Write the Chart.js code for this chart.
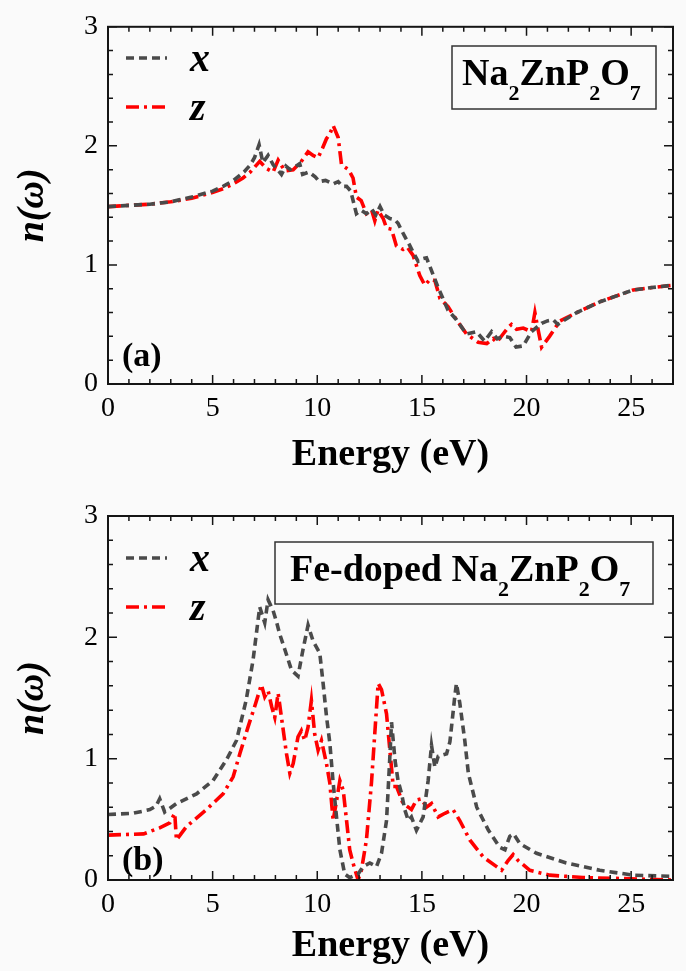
<!DOCTYPE html>
<html>
<head>
<meta charset="utf-8">
<script src="https://cdn.jsdelivr.net/npm/chart.js@4.4.1/dist/chart.umd.min.js"></script>
<style>
  body { margin: 0; background: #fafafa; }
  .panel { position: absolute; left: 0; width: 686px; }
</style>
</head>
<body>
<div class="panel" style="top:0;height:486px"><canvas id="panelA"></canvas></div>
<div class="panel" style="top:486px;height:485px"><canvas id="panelB"></canvas></div>
<script>
// (a) Na2ZnP2O7 — refractive index, x and z polarisation
const energyAx = [0, 1, 2, 3, 4, 5, 5.5, 6, 6.5, 6.8, 7.0, 7.22, 7.4, 7.65, 7.9, 8.1, 8.29, 8.5, 8.7, 8.9, 9.16, 9.3, 9.6, 9.9, 10.1, 10.4, 10.76, 11.0, 11.2, 11.4, 11.6, 11.87, 12.1, 12.35, 12.6, 12.8, 13.0, 13.2, 13.47, 13.7, 13.86, 14.0, 14.18, 14.4, 14.6, 14.82, 15.0, 15.22, 15.4, 15.62, 15.8, 16.0, 16.25, 16.65, 17.13, 17.6, 18.0, 18.33, 18.6, 18.9, 19.2, 19.5, 19.84, 20.24, 20.72, 21.0, 21.27, 21.5, 21.75, 22.4, 23.5, 24.3, 25.1, 26, 27];
const nAx = [1.49, 1.50, 1.51, 1.53, 1.57, 1.62, 1.66, 1.71, 1.78, 1.84, 1.90, 2.01, 1.86, 1.92, 1.84, 1.80, 1.76, 1.83, 1.80, 1.82, 1.85, 1.76, 1.78, 1.74, 1.70, 1.71, 1.68, 1.70, 1.66, 1.66, 1.62, 1.43, 1.46, 1.43, 1.47, 1.42, 1.49, 1.42, 1.39, 1.38, 1.35, 1.30, 1.24, 1.17, 1.10, 1.03, 1.05, 1.06, 0.98, 0.88, 0.80, 0.72, 0.62, 0.54, 0.42, 0.44, 0.36, 0.44, 0.38, 0.40, 0.39, 0.31, 0.32, 0.44, 0.51, 0.53, 0.54, 0.50, 0.53, 0.60, 0.69, 0.74, 0.79, 0.81, 0.83];
const energyAz = [0, 1, 2, 3, 4, 5.02, 5.5, 5.98, 6.45, 6.8, 7.05, 7.25, 7.57, 7.89, 8.13, 8.45, 8.85, 9.2, 9.56, 9.8, 10.04, 10.25, 10.44, 10.6, 10.76, 11.0, 11.16, 11.5, 11.71, 11.87, 12.1, 12.35, 12.6, 12.75, 12.9, 13.15, 13.31, 13.55, 13.78, 14.1, 14.3, 14.58, 14.9, 15.14, 15.4, 15.62, 15.86, 16.25, 16.65, 17.13, 17.69, 18.1, 18.4, 18.57, 18.88, 19.1, 19.28, 19.52, 19.84, 20.1, 20.24, 20.4, 20.56, 20.72, 21.1, 21.6, 22.4, 23.5, 24.3, 25.1, 26, 27];
const nAz = [1.49, 1.50, 1.51, 1.53, 1.56, 1.61, 1.64, 1.68, 1.73, 1.78, 1.83, 1.87, 1.81, 1.78, 1.88, 1.79, 1.80, 1.86, 1.95, 1.92, 1.90, 1.98, 2.06, 2.10, 2.17, 2.07, 1.84, 1.80, 1.73, 1.57, 1.54, 1.43, 1.46, 1.37, 1.46, 1.39, 1.31, 1.30, 1.16, 1.13, 1.15, 1.08, 0.91, 0.83, 0.88, 0.87, 0.72, 0.65, 0.54, 0.42, 0.35, 0.34, 0.38, 0.35, 0.42, 0.47, 0.50, 0.46, 0.47, 0.45, 0.44, 0.60, 0.45, 0.31, 0.40, 0.53, 0.60, 0.69, 0.74, 0.79, 0.81, 0.83];

// (b) Fe-doped Na2ZnP2O7
const energyBx = [0, 1.2, 2.0, 2.3, 2.47, 2.71, 3.27, 4.23, 5.02, 5.66, 6.14, 6.6, 6.93, 7.09, 7.25, 7.49, 7.65, 7.89, 8.05, 8.2, 8.45, 8.77, 9.08, 9.32, 9.56, 9.8, 9.96, 10.12, 10.28, 10.44, 10.6, 10.76, 10.92, 11.08, 11.31, 11.55, 11.95, 12.19, 12.51, 12.83, 13.07, 13.31, 13.45, 13.55, 13.72, 13.86, 14.03, 14.18, 14.35, 14.5, 14.74, 15.06, 15.3, 15.46, 15.62, 15.78, 16.18, 16.34, 16.57, 16.65, 16.81, 17.05, 17.22, 17.62, 18.18, 18.72, 18.97, 19.2, 19.38, 19.68, 20.48, 21.9, 23.5, 25.1, 27];
const nBx = [0.54, 0.55, 0.58, 0.61, 0.67, 0.56, 0.63, 0.71, 0.82, 0.99, 1.15, 1.48, 1.81, 2.03, 2.25, 2.12, 2.31, 2.22, 2.13, 2.03, 1.90, 1.73, 1.68, 1.90, 2.10, 1.97, 1.92, 1.87, 1.62, 1.35, 1.13, 0.80, 0.52, 0.25, 0.05, 0.02, 0.05, 0.11, 0.14, 0.11, 0.22, 0.49, 0.95, 1.30, 0.98, 0.82, 0.71, 0.58, 0.49, 0.52, 0.41, 0.52, 0.82, 1.11, 0.93, 1.02, 1.04, 1.14, 1.51, 1.62, 1.46, 1.15, 0.88, 0.60, 0.41, 0.27, 0.25, 0.36, 0.38, 0.30, 0.22, 0.14, 0.08, 0.04, 0.03];
const energyBz = [0, 1.7, 2.47, 2.95, 3.19, 3.27, 3.75, 4.7, 5.5, 5.98, 6.3, 6.69, 7.01, 7.33, 7.49, 7.65, 7.82, 7.97, 8.13, 8.29, 8.53, 8.69, 8.85, 9.08, 9.24, 9.4, 9.56, 9.72, 9.88, 10.04, 10.2, 10.44, 10.6, 10.76, 10.92, 11.08, 11.24, 11.4, 11.55, 11.71, 11.95, 12.11, 12.35, 12.59, 12.75, 12.91, 13.07, 13.31, 13.47, 13.63, 13.79, 14.1, 14.35, 14.5, 14.74, 14.98, 15.22, 15.46, 15.78, 16.1, 16.49, 16.81, 17.29, 17.93, 18.57, 18.81, 19.12, 19.36, 19.6, 20.16, 21.1, 22.7, 25, 27];
const nBz = [0.37, 0.38, 0.43, 0.47, 0.55, 0.33, 0.44, 0.58, 0.71, 0.85, 1.04, 1.26, 1.43, 1.61, 1.51, 1.56, 1.43, 1.34, 1.54, 1.34, 1.04, 0.88, 0.96, 1.18, 1.23, 1.15, 1.26, 1.48, 1.20, 1.07, 1.15, 0.96, 0.80, 0.49, 0.65, 0.82, 0.74, 0.49, 0.25, 0.14, 0.0, 0.08, 0.33, 0.80, 1.21, 1.62, 1.57, 1.37, 1.07, 0.77, 0.77, 0.63, 0.60, 0.58, 0.66, 0.67, 0.60, 0.63, 0.52, 0.55, 0.58, 0.49, 0.33, 0.19, 0.11, 0.08, 0.16, 0.21, 0.16, 0.08, 0.04, 0.02, 0.01, 0.0];

const xLabels = [0, 5, 10, 15, 20, 25];
const yLabels = [0, 1, 2, 3];
const seriesNames = ['x', 'z'];

const GRAY = '#4a4a4a';
const RED = '#ff0000';
const DASH_X = [8, 5];
const DASH_Z = [13, 5, 3, 5];
const LINE_W = 3.6;
const SERIF = '"Liberation Serif", "Times New Roman", serif';

const pairs = (xs, ys) => xs.map((x, i) => ({ x: x, y: ys[i] }));

// frame + inward ticks on all four sides, taken from the scales
const frameTicks = {
  id: 'frameTicks',
  afterDraw(chart) {
    const { ctx, chartArea: a, scales } = chart;
    ctx.save();
    ctx.strokeStyle = '#151515';
    ctx.lineWidth = 2;
    ctx.strokeRect(a.left, a.top, a.right - a.left, a.bottom - a.top);
    ctx.lineWidth = 1.5;
    ctx.beginPath();
    scales.x.ticks.forEach(t => {
      const px = scales.x.getPixelForValue(t.value);
      const len = xLabels.includes(Math.round(t.value)) && Math.abs(t.value - Math.round(t.value)) < 1e-6 ? 9 : 5;
      ctx.moveTo(px, a.bottom); ctx.lineTo(px, a.bottom - len);
      ctx.moveTo(px, a.top); ctx.lineTo(px, a.top + len);
    });
    scales.y.ticks.forEach(t => {
      const py = scales.y.getPixelForValue(t.value);
      const len = Math.abs(t.value - Math.round(t.value)) < 1e-6 ? 9 : 5;
      ctx.moveTo(a.left, py); ctx.lineTo(a.left + len, py);
      ctx.moveTo(a.right, py); ctx.lineTo(a.right - len, py);
    });
    ctx.stroke();
    ctx.restore();
  }
};

function drawFormula(ctx, parts, x, y, big, small, drop) {
  let cx = x;
  parts.forEach(p => {
    ctx.font = 'bold ' + (p.sub ? small : big) + 'px ' + SERIF;
    ctx.fillText(p.t, cx, p.sub ? y + drop : y);
    cx += ctx.measureText(p.t).width;
  });
}

// legend, label box, panel tag and axis titles
const decorations = {
  id: 'deco',
  afterDraw(chart, args, o) {
    const { ctx, chartArea: a } = chart;
    ctx.save();
    ctx.fillStyle = '#000';
    ctx.textBaseline = 'alphabetic';

    // legend
    const rows = [{ y: o.legendY[0], c: GRAY, d: DASH_X, t: seriesNames[0] },
                  { y: o.legendY[1], c: RED, d: DASH_Z, t: seriesNames[1] }];
    rows.forEach(r => {
      ctx.strokeStyle = r.c;
      ctx.lineWidth = LINE_W;
      ctx.setLineDash(r.d);
      ctx.beginPath();
      ctx.moveTo(126, r.y); ctx.lineTo(167, r.y);
      ctx.stroke();
      ctx.setLineDash([]);
      ctx.font = 'italic bold 40px ' + SERIF;
      ctx.fillText(r.t, 190, r.y + 13);
    });

    // compound box
    const b = o.box;
    ctx.fillStyle = '#fafafa';
    ctx.fillRect(b.x, b.y, b.w, b.h);
    ctx.strokeStyle = '#333';
    ctx.lineWidth = 1.5;
    ctx.strokeRect(b.x, b.y, b.w, b.h);
    ctx.fillStyle = '#000';
    drawFormula(ctx, o.formula, b.tx, b.ty, 38, 22, 15);

    // panel tag
    ctx.font = 'bold 34px ' + SERIF;
    ctx.fillText(o.tag, 122, o.tagY);

    // axis titles
    ctx.textAlign = 'center';
    ctx.textBaseline = 'middle';
    ctx.font = 'bold 38px ' + SERIF;
    ctx.fillText('Energy (eV)', (a.left + a.right) / 2, o.xTitleY);
    ctx.translate(33, (a.top + a.bottom) / 2);
    ctx.rotate(-Math.PI / 2);
    ctx.font = 'italic bold 38px ' + SERIF;
    ctx.fillText('n(\u03c9)', 0, 0);
    ctx.restore();
  }
};

function makePanel(id, xs1, ys1, xs2, ys2, topPad, xScaleH, deco) {
  return new Chart(document.getElementById(id), {
    type: 'line',
    data: {
      datasets: [
        { label: seriesNames[0], data: pairs(xs1, ys1), borderColor: GRAY, borderDash: DASH_X,
          borderWidth: LINE_W, pointRadius: 0, tension: 0, fill: false },
        { label: seriesNames[1], data: pairs(xs2, ys2), borderColor: RED, borderDash: DASH_Z,
          borderWidth: LINE_W, pointRadius: 0, tension: 0, fill: false }
      ]
    },
    options: {
      responsive: true,
      maintainAspectRatio: false,
      animation: false,
      events: [],
      layout: { padding: { top: topPad, right: 13, bottom: 0, left: 0 } },
      scales: {
        x: {
          type: 'linear', min: 0, max: 27,
          grid: { display: false, drawTicks: false }, border: { display: false },
          afterFit(s) { s.height = xScaleH; },
          ticks: {
            stepSize: 1, autoSkip: false, maxRotation: 0, padding: 8,
            color: '#000', font: { family: SERIF, size: 28 },
            callback: v => xLabels.includes(v) ? String(v) : ''
          }
        },
        y: {
          type: 'linear', min: 0, max: 3,
          grid: { display: false, drawTicks: false }, border: { display: false },
          afterFit(s) { s.width = 108; },
          ticks: {
            stepSize: 0.2, autoSkip: false, padding: 10,
            color: '#000', font: { family: SERIF, size: 28 },
            callback: v => {
              const r = Math.round(v);
              return Math.abs(v - r) < 1e-6 && yLabels.includes(r) ? String(r) : '';
            }
          }
        }
      },
      plugins: { legend: { display: false }, tooltip: { enabled: false }, deco: deco }
    },
    plugins: [frameTicks, decorations]
  });
}

const formulaA = [{ t: 'Na' }, { t: '2', sub: true }, { t: 'ZnP' }, { t: '2', sub: true }, { t: 'O' }, { t: '7', sub: true }];
const formulaB = [{ t: 'Fe-doped Na' }, { t: '2', sub: true }, { t: 'ZnP' }, { t: '2', sub: true }, { t: 'O' }, { t: '7', sub: true }];

makePanel('panelA', energyAx, nAx, energyAz, nAz, 19.5, 102, {
  legendY: [58, 107],
  box: { x: 452, y: 46, w: 204, h: 63, tx: 462, ty: 85 },
  formula: formulaA, tag: '(a)', tagY: 366, xTitleY: 455
});
makePanel('panelB', energyBx, nBx, energyBz, nBz, 30, 91, {
  legendY: [72, 121],
  box: { x: 275, y: 56, w: 378, h: 62, tx: 290, ty: 95 },
  formula: formulaB, tag: '(b)', tagY: 384, xTitleY: 460
});
</script>
</body>
</html>
